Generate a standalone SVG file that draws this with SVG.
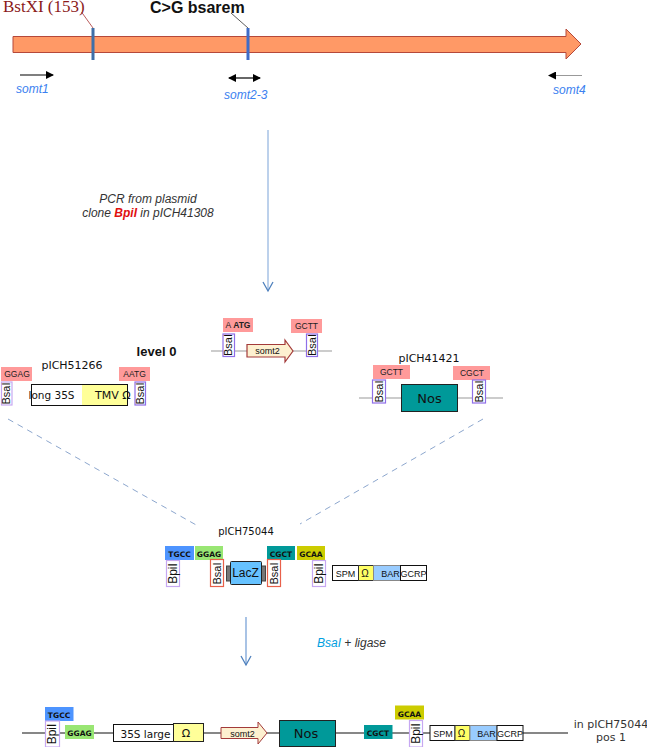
<svg xmlns="http://www.w3.org/2000/svg" width="647" height="747" viewBox="0 0 647 747">
<style>
text{font-family:"Liberation Sans",Arial,sans-serif;fill:#111}
.tag{font-size:8.5px;text-anchor:middle;fill:#222}
.tagb{font-size:7.5px;font-weight:bold;text-anchor:middle;fill:#111;font-family:"DejaVu Sans",sans-serif}
.pr{font-size:12px;font-style:italic;fill:#3a80f0}
.bp{font-size:12px;text-anchor:middle}
.bs{font-size:11px;text-anchor:middle}
.cap{font-size:12px;font-style:italic;fill:#333;text-anchor:middle}
.pl{text-anchor:middle;fill:#111;font-family:"DejaVu Sans",sans-serif}
.m9{font-size:9px;text-anchor:middle}
.box{fill:#fff;stroke:#111;stroke-width:1}
.site{fill:#fff;stroke-width:1.2}
.pur{stroke:#c6a8f2}
.dpur{stroke:#8f6fe8}
.red{stroke:#e8604a}
.bk{stroke:#111;stroke-width:1.2;fill:none}
.gr{stroke:#999;stroke-width:1.2;fill:none}
</style>
<defs>
<marker id="ah" markerWidth="10" markerHeight="8" refX="7" refY="4" orient="auto-start-reverse" markerUnits="userSpaceOnUse"><path d="M0 0L8 4L0 8Z" fill="#000"/></marker>
<marker id="open" markerWidth="14" markerHeight="12" refX="10" refY="6" orient="auto" markerUnits="userSpaceOnUse"><path d="M1 1L10 6L1 11" fill="none" stroke="#4f81bd" stroke-width="1.3"/></marker>
</defs>

<g id="connectors">
<path d="M268 130V291" stroke="#7ba3d8" stroke-width="1" fill="none" marker-end="url(#open)"/>
<path d="M246 617V665" stroke="#6f9bd4" stroke-width="1.2" fill="none" marker-end="url(#open)"/>
<path d="M8 419L198 526" stroke="#6f8fc0" stroke-width="0.8" stroke-dasharray="6 5" fill="none"/>
<path d="M483 419L300 524" stroke="#6f8fc0" stroke-width="0.8" stroke-dasharray="6 5" fill="none"/>
<path d="M81.500 12L93 28" stroke="#a33" stroke-width="0.8" fill="none"/>
<path d="M231 13L248 28" stroke="#333" stroke-width="0.8" fill="none"/>
<path d="M20 75H53" stroke="#000" stroke-width="1.2" marker-end="url(#ah)"/>
<path d="M229 78H260" stroke="#000" stroke-width="1.2" marker-start="url(#ah)" marker-end="url(#ah)"/>
<path d="M582 75.500H549" stroke="#999" stroke-width="1.200" marker-end="url(#ah)"/>
<path class="gr" d="M211 351H332"/>
<path class="gr" d="M359 398H503"/>
<path class="bk" d="M22 733H113M203 733H221M267 733H279M335 733H364M392 733H430M523 733H568"/>
</g>

<g id="main-arrow">
<path d="M13 36.500H566V29L581 44L566 59V52.500H13Z" fill="#ff9966" stroke="#b5483a" stroke-width="1"/>
<rect x="91.500" y="28" width="3" height="32" fill="#3f6fa8"/>
<rect x="246.500" y="28" width="3" height="32" fill="#3f6cc8"/>
</g>

<g id="labels-top">
<text x="3" y="12" style="font-family:'Liberation Serif',serif;fill:#8b1a1a;font-size:17px">BstXI (153)</text>
<text x="150" y="13" style="font-size:16px;font-weight:bold">C&gt;G bsarem</text>
<text x="16" y="93" class="pr">somt1</text>
<text x="224" y="99" class="pr">somt2-3</text>
<text x="553" y="94" class="pr">somt4</text>
<text x="148" y="203" class="cap">PCR from plasmid</text>
<text x="148" y="217" class="cap">clone <tspan font-weight="bold" style="fill:#e01010">BpiI</tspan> in pICH41308</text>
</g>

<g id="level0-somt2">
<text x="156.500" y="355.500" style="font-size:13px;font-weight:bold;text-anchor:middle">level 0</text>
<rect x="223" y="318" width="30" height="14" fill="#ff9a9a"/>
<text x="238" y="328" class="tag">A <tspan font-weight="bold">ATG</tspan></text>
<rect x="291" y="319" width="31" height="14" fill="#ff9a9a"/>
<text x="306.500" y="329" class="tag">GCTT</text>
<rect x="223" y="334" width="11.500" height="22.500" class="site dpur"/>
<text transform="translate(232,345) rotate(-90)" class="bs">BsaI</text>
<rect x="306.500" y="334" width="11" height="22.500" class="site dpur"/>
<text transform="translate(316,345) rotate(-90)" class="bs">BsaI</text>
<path d="M247 344.500H285V340L293 351L285 362V357H247Z" fill="#fdf0d0" stroke="#a33a3a" stroke-width="1.200"/>
<text x="267.500" y="354" class="m9">somt2</text>
</g>

<g id="pICH51266">
<text x="72" y="369" class="pl" style="font-size:11px">pICH51266</text>
<rect x="1" y="367" width="31" height="14" fill="#ff9a9a"/>
<text x="17" y="377" class="tag">GGAG</text>
<rect x="119" y="367" width="31" height="14" fill="#ff9a9a"/>
<text x="134.500" y="377" class="tag">AATG</text>
<rect x="1.500" y="382" width="10.500" height="23" class="site pur"/>
<text transform="translate(10,393.500) rotate(-90)" class="bs">BsaI</text>
<rect x="135" y="382" width="10.500" height="23" class="site dpur"/>
<text transform="translate(144,393.500) rotate(-90)" class="bs">BsaI</text>
<rect x="82" y="384" width="46" height="21" fill="#ffff99"/>
<rect x="31.500" y="384.500" width="96" height="21" fill="none" stroke="#111" stroke-width="1"/>
<text x="28.500" y="399" class="pl" style="font-size:10.500px;text-anchor:start">long 35S</text>
<text x="95" y="399" class="pl" style="font-size:11px;text-anchor:start">TMV Ω</text>
</g>

<g id="pICH41421">
<text x="429" y="362" class="pl" style="font-size:11px">pICH41421</text>
<rect x="373" y="365" width="37" height="14" fill="#ff9a9a"/>
<text x="391.500" y="375" class="tag">GCTT</text>
<rect x="453" y="366" width="37" height="14" fill="#ff9a9a"/>
<text x="472" y="376" class="tag">CGCT</text>
<rect x="372.500" y="380" width="13" height="23" class="site dpur"/>
<text transform="translate(383,391.500) rotate(-90)" class="bs">BsaI</text>
<rect x="472.500" y="380" width="13" height="23" class="site dpur"/>
<text transform="translate(483,391.500) rotate(-90)" class="bs">BsaI</text>
<rect x="401.500" y="384.500" width="56" height="27" fill="#009999" stroke="#222" stroke-width="1"/>
<text x="429.500" y="403" class="pl" style="font-size:13px">Nos</text>
</g>

<g id="pICH75044">
<text x="246" y="535" class="pl" style="font-size:10px">pICH75044</text>
<rect x="165" y="546" width="29" height="14" fill="#4d94ff"/>
<text x="179.500" y="557" class="tagb">TGCC</text>
<rect x="195" y="546" width="28" height="14" fill="#99e673"/>
<text x="209" y="557" class="tagb">GGAG</text>
<rect x="267" y="546" width="28" height="14" fill="#009999"/>
<text x="281" y="557" class="tagb">CGCT</text>
<rect x="297" y="546" width="28" height="14" fill="#cccc00"/>
<text x="311" y="557" class="tagb">GCAA</text>
<rect x="166.500" y="560.500" width="13" height="26" class="site pur"/>
<text transform="translate(177,573.500) rotate(-90)" class="bp">BpiI</text>
<rect x="210.500" y="559.500" width="13" height="27" class="site red"/>
<text transform="translate(221,573.500) rotate(-90)" class="bs">BsaI</text>
<rect x="267.500" y="559.500" width="13" height="27" class="site red"/>
<text transform="translate(278,573.500) rotate(-90)" class="bs">BsaI</text>
<rect x="312.500" y="560.500" width="13" height="26" class="site pur"/>
<text transform="translate(323,573.500) rotate(-90)" class="bp">BpiI</text>
<rect x="226.500" y="566" width="39" height="15" fill="#777" stroke="#444"/>
<rect x="230.500" y="561.500" width="31" height="23" rx="1" fill="#66c2ff" stroke="#222"/>
<text x="245.500" y="577" style="font-size:12px;text-anchor:middle">LacZ</text>
</g>

<g id="marker-cassette-top">
<rect x="332.500" y="565.500" width="26" height="15" class="box"/>
<rect x="358.500" y="565.500" width="15" height="15" fill="#ffff66" stroke="#333"/>
<rect x="373.500" y="565.500" width="27" height="15" fill="#99ccff" stroke="#888"/>
<rect x="400.500" y="565.500" width="26" height="15" class="box"/>
<text x="345.500" y="576.500" class="m9">SPM</text>
<text x="365" y="576.500" class="m9" style="font-size:10px">Ω</text>
<text x="390.500" y="576.500" class="m9">BAR</text>
<text x="413.500" y="576.500" class="m9">GCRP</text>
</g>

<text x="317" y="647" style="fill:#333;font-size:12px;font-style:italic"><tspan style="fill:#00a0e0">BsaI</tspan> + ligase</text>

<g id="final-construct">
<rect x="45" y="707" width="28.500" height="14" fill="#4d94ff"/>
<text x="59" y="718" class="tagb">TGCC</text>
<rect x="45.500" y="721" width="14" height="26" class="site pur"/>
<text transform="translate(56,734) rotate(-90)" class="bp">BpiI</text>
<rect x="65" y="725" width="29" height="14" fill="#99e673"/>
<text x="79.500" y="736" class="tagb">GGAG</text>
<rect x="113.500" y="724.500" width="60" height="17" class="box"/>
<text x="145.500" y="737.500" class="pl" style="font-size:10.500px">35S large</text>
<rect x="173.500" y="723.500" width="30" height="18" fill="#ffff99" stroke="#222"/>
<text x="186" y="737" class="pl" style="font-size:11px">Ω</text>
<path d="M221 727.500H258V722L267 733L258 744V738.500H221Z" fill="#fdf0d0" stroke="#a33a3a" stroke-width="1"/>
<text x="242.500" y="737" class="m9">somt2</text>
<rect x="279.500" y="720.500" width="56" height="26" fill="#009999" stroke="#222"/>
<text x="306" y="738" class="pl" style="font-size:13px">Nos</text>
<rect x="364" y="725" width="28.500" height="14" fill="#009999"/>
<text x="378" y="736" class="tagb">CGCT</text>
<rect x="395" y="705.500" width="29" height="14" fill="#cccc00"/>
<text x="409.500" y="716.500" class="tagb">GCAA</text>
<rect x="409.500" y="720.500" width="13" height="26.500" class="site pur"/>
<text transform="translate(420,733.500) rotate(-90)" class="bp">BpiI</text>
<rect x="430" y="725.500" width="25" height="15" class="box"/>
<rect x="455" y="725.500" width="15" height="15" fill="#ffff66" stroke="#333"/>
<rect x="470" y="725.500" width="27" height="15" fill="#99ccff" stroke="#888"/>
<rect x="497" y="725.500" width="26" height="15" class="box"/>
<text x="443" y="736.500" class="m9">SPM</text>
<text x="461.500" y="736.500" class="m9" style="font-size:10px">Ω</text>
<text x="486.500" y="736.500" class="m9">BAR</text>
<text x="510" y="736.500" class="m9">GCRP</text>
<text x="611" y="728" class="pl" style="font-size:11px;fill:#333">in pICH75044</text>
<text x="611" y="741" class="pl" style="font-size:11px;fill:#333">pos 1</text>
</g>
</svg>
